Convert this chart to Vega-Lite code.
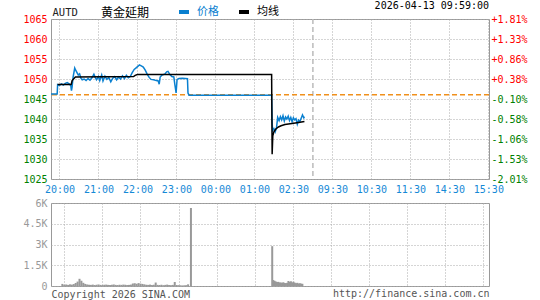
{
  "$schema": "https://vega.github.io/schema/vega-lite/v6.json",
  "padding": {"left": 22, "top": 0, "right": 5, "bottom": 0},
  "background": "white",
  "bounds": "flush",
  "spacing": 24,
  "config": {
    "view": {"stroke": "#999999", "strokeWidth": 1},
    "font": "DejaVu Sans Mono",
    "axis": {
      "labelFont": "DejaVu Sans Mono", "labelFontSize": 10,
      "titleFont": "DejaVu Sans Mono", "titleFontWeight": "normal",
      "gridColor": "#aaaaaa", "gridDash": [1, 2], "gridOpacity": 1, "gridWidth": 1,
      "domain": false, "ticks": false
    }
  },
  "datasets": {
    "px": [
      {"s":"价格","i":0,"p":1046.25},{"s":"价格","i":9.5,"p":1046.25},{"s":"价格","i":10.2,"p":1048.6},{"s":"价格","i":13,"p":1048.4},{"s":"价格","i":16,"p":1048.8},{"s":"价格","i":19,"p":1048.5},{"s":"价格","i":22,"p":1048.9},{"s":"价格","i":25,"p":1049.1},{"s":"价格","i":28,"p":1048.8},{"s":"价格","i":30.5,"p":1048.3},{"s":"价格","i":31.5,"p":1047.1},{"s":"价格","i":32.5,"p":1048.0},{"s":"价格","i":34,"p":1050.5},{"s":"价格","i":36.5,"p":1052.75},{"s":"价格","i":38,"p":1052.2},{"s":"价格","i":40,"p":1051.6},{"s":"价格","i":42,"p":1051.0},{"s":"价格","i":44,"p":1051.3},{"s":"价格","i":46,"p":1050.2},{"s":"价格","i":48,"p":1049.8},{"s":"价格","i":51,"p":1050.0},{"s":"价格","i":54,"p":1049.6},{"s":"价格","i":57,"p":1050.1},{"s":"价格","i":60,"p":1049.7},{"s":"价格","i":63,"p":1050.3},{"s":"价格","i":66,"p":1051.2},{"s":"价格","i":68,"p":1050.4},{"s":"价格","i":70,"p":1049.8},{"s":"价格","i":73,"p":1050.6},{"s":"价格","i":75,"p":1049.6},{"s":"价格","i":78,"p":1051.0},{"s":"价格","i":80,"p":1049.5},{"s":"价格","i":83,"p":1050.7},{"s":"价格","i":86,"p":1049.9},{"s":"价格","i":89,"p":1050.4},{"s":"价格","i":92,"p":1049.3},{"s":"价格","i":95,"p":1050.2},{"s":"价格","i":98,"p":1050.6},{"s":"价格","i":101,"p":1049.8},{"s":"价格","i":104,"p":1050.5},{"s":"价格","i":107,"p":1050.0},{"s":"价格","i":110,"p":1050.8},{"s":"价格","i":113,"p":1050.1},{"s":"价格","i":116,"p":1050.9},{"s":"价格","i":119,"p":1050.3},{"s":"价格","i":122,"p":1050.6},{"s":"价格","i":125,"p":1051.6},{"s":"价格","i":128,"p":1052.4},{"s":"价格","i":131,"p":1052.8},{"s":"价格","i":134,"p":1053.2},{"s":"价格","i":136,"p":1053.5},{"s":"价格","i":139,"p":1053.3},{"s":"价格","i":142,"p":1053.0},{"s":"价格","i":145,"p":1052.2},{"s":"价格","i":148,"p":1051.2},{"s":"价格","i":151,"p":1050.4},{"s":"价格","i":154,"p":1049.9},{"s":"价格","i":158,"p":1049.8},{"s":"价格","i":162,"p":1049.6},{"s":"价格","i":165,"p":1049.5},{"s":"价格","i":166.5,"p":1048.7},{"s":"价格","i":168,"p":1050.5},{"s":"价格","i":171,"p":1051.0},{"s":"价格","i":175,"p":1051.2},{"s":"价格","i":178,"p":1051.8},{"s":"价格","i":180,"p":1051.9},{"s":"价格","i":183,"p":1051.1},{"s":"价格","i":186,"p":1050.6},{"s":"价格","i":189,"p":1050.5},{"s":"价格","i":190.5,"p":1048.7},{"s":"价格","i":192.5,"p":1046.5},{"s":"价格","i":194,"p":1049.9},{"s":"价格","i":197,"p":1050.1},{"s":"价格","i":202,"p":1050.2},{"s":"价格","i":210,"p":1050.1},{"s":"价格","i":210.8,"p":1046.5},{"s":"价格","i":212.5,"p":1045.95},{"s":"价格","i":339.5,"p":1045.95},{"s":"价格","i":340.3,"p":1039.2},{"s":"价格","i":341,"p":1037.1},{"s":"价格","i":343,"p":1037.6},{"s":"价格","i":345,"p":1036.8},{"s":"价格","i":347,"p":1037.8},{"s":"价格","i":348.8,"p":1040.4},{"s":"价格","i":351,"p":1039.6},{"s":"价格","i":353,"p":1040.6},{"s":"价格","i":355,"p":1039.8},{"s":"价格","i":357,"p":1040.8},{"s":"价格","i":359,"p":1039.5},{"s":"价格","i":361,"p":1040.5},{"s":"价格","i":363,"p":1040.0},{"s":"价格","i":365,"p":1040.7},{"s":"价格","i":367,"p":1039.6},{"s":"价格","i":369,"p":1040.4},{"s":"价格","i":371,"p":1039.3},{"s":"价格","i":373,"p":1040.3},{"s":"价格","i":375,"p":1039.8},{"s":"价格","i":377,"p":1040.1},{"s":"价格","i":379,"p":1038.7},{"s":"价格","i":381,"p":1039.7},{"s":"价格","i":383,"p":1039.4},{"s":"价格","i":385,"p":1040.2},{"s":"价格","i":387,"p":1041.0},{"s":"价格","i":389,"p":1040.3},{"s":"价格","i":390,"p":1040.6},
      {"s":"均线","i":10.2,"p":1048.6},{"s":"均线","i":31,"p":1048.6},{"s":"均线","i":32.5,"p":1049.6},{"s":"均线","i":37.5,"p":1050.5},{"s":"均线","i":127,"p":1050.6},{"s":"均线","i":129.5,"p":1050.9},{"s":"均线","i":133,"p":1051.1},{"s":"均线","i":339.5,"p":1051.1},{"s":"均线","i":340.3,"p":1031.2},{"s":"均线","i":341.3,"p":1035.8},{"s":"均线","i":343,"p":1036.8},{"s":"均线","i":346,"p":1037.5},{"s":"均线","i":350,"p":1038.0},{"s":"均线","i":354,"p":1038.3},{"s":"均线","i":360,"p":1038.6},{"s":"均线","i":368,"p":1038.8},{"s":"均线","i":376,"p":1039.0},{"s":"均线","i":383,"p":1039.2},{"s":"均线","i":390,"p":1039.4}
    ],
    "ref": [{"pc": 1046.04}],
    "brk": [{"i": 403}],
    "vol": [
      {"i":10,"v":150},{"i":13,"v":90},{"i":16,"v":110},{"i":19,"v":80},{"i":22,"v":120},{"i":25,"v":100},{"i":28,"v":140},{"i":31,"v":220},{"i":34,"v":320},{"i":37,"v":520},{"i":40,"v":380},{"i":43,"v":230},{"i":46,"v":150},{"i":49,"v":110},{"i":52,"v":90},{"i":55,"v":80},{"i":58,"v":100},{"i":61,"v":70},{"i":64,"v":90},{"i":67,"v":110},{"i":70,"v":80},{"i":73,"v":70},{"i":76,"v":90},{"i":79,"v":100},{"i":82,"v":80},{"i":85,"v":70},{"i":88,"v":90},{"i":91,"v":110},{"i":94,"v":80},{"i":97,"v":70},{"i":100,"v":90},{"i":103,"v":80},{"i":106,"v":100},{"i":109,"v":90},{"i":112,"v":70},{"i":115,"v":80},{"i":118,"v":100},{"i":121,"v":180},{"i":124,"v":200},{"i":127,"v":160},{"i":130,"v":210},{"i":133,"v":170},{"i":136,"v":150},{"i":139,"v":120},{"i":142,"v":90},{"i":145,"v":80},{"i":148,"v":100},{"i":151,"v":70},{"i":154,"v":90},{"i":157,"v":250},{"i":160,"v":80},{"i":163,"v":70},{"i":166,"v":90},{"i":169,"v":60},{"i":172,"v":80},{"i":175,"v":100},{"i":178,"v":70},{"i":181,"v":60},{"i":184,"v":80},{"i":187,"v":290},{"i":190,"v":70},{"i":193,"v":60},{"i":196,"v":50},{"i":199,"v":40},{"i":202,"v":50},{"i":205,"v":60},{"i":208,"v":120},
      {"i":212.5,"v":5640},
      {"i":340.5,"v":2880},{"i":342,"v":430},{"i":344,"v":380},{"i":346,"v":330},{"i":348,"v":290},{"i":350,"v":300},{"i":352,"v":260},{"i":354,"v":250},{"i":356,"v":230},{"i":358,"v":270},{"i":360,"v":220},{"i":362,"v":210},{"i":364,"v":230},{"i":366,"v":360},{"i":368,"v":300},{"i":370,"v":340},{"i":372,"v":260},{"i":374,"v":310},{"i":376,"v":240},{"i":378,"v":200},{"i":380,"v":230},{"i":382,"v":180},{"i":384,"v":200},{"i":386,"v":170},{"i":388,"v":160}
    ]
  },
  "vconcat": [
    {
      "width": 438,
      "height": 160,
      "title": {"text": "2026-04-13 09:59:00", "anchor": "end", "frame": "group", "font": "DejaVu Sans Mono", "fontSize": 10, "fontWeight": "normal", "color": "#000000", "offset": -4},
      "layer": [
        {
          "data": {"name": "brk"},
          "mark": {"type": "rule", "color": "#bbbbbb", "strokeWidth": 1.5, "strokeDash": [5, 3]},
          "encoding": {
            "x": {"field": "i", "type": "quantitative", "scale": {"domain": [0, 674], "nice": false, "zero": false},
              "axis": {"orient": "bottom", "values": [13,73,133,193,253,313,373,433,493,553,613,673], "labelExpr": "['20:00','21:00','22:00','23:00','00:00','01:00','02:30','09:30','10:30','11:30','14:30','15:30'][round((datum.value-13)/60)]", "labelColor": "#1589d6", "labelPadding": 5, "labelFlush": false, "grid": true, "title": null}}
          }
        },
        {
          "data": {"name": "ref"},
          "mark": {"type": "rule", "color": "#f0901c", "strokeWidth": 1.5, "strokeDash": [5, 3]},
          "encoding": {
            "y": {"field": "pc", "type": "quantitative", "scale": {"domain": [1025, 1065], "nice": false, "zero": false},
              "axis": {"orient": "right", "values": [1025,1030,1035,1040,1045,1050,1055,1060,1065], "labelExpr": "(datum.value >= 1046.04 ? '+' : '-') + format(abs(datum.value/1046.04 - 1)*100, '.2f') + '%'", "labelPadding": 2, "labelColor": {"condition": {"test": "datum.value > 1046", "value": "#ff0000"}, "value": "#008000"}, "grid": false, "title": null}}
          }
        },
        {
          "data": {"name": "px"},
          "mark": {"type": "line", "strokeWidth": 1.5},
          "encoding": {
            "x": {"field": "i", "type": "quantitative", "scale": {"domain": [0, 674], "nice": false, "zero": false},
              "axis": {"orient": "bottom", "values": [13,73,133,193,253,313,373,433,493,553,613,673], "labelExpr": "['20:00','21:00','22:00','23:00','00:00','01:00','02:30','09:30','10:30','11:30','14:30','15:30'][round((datum.value-13)/60)]", "labelColor": "#1589d6", "labelPadding": 5, "labelFlush": false, "grid": true, "title": null}},
            "y": {"field": "p", "type": "quantitative", "scale": {"domain": [1025, 1065], "nice": false, "zero": false},
              "axis": {"orient": "left", "values": [1025,1030,1035,1040,1045,1050,1055,1060,1065], "format": "d", "labelPadding": 4, "labelColor": {"condition": {"test": "datum.value > 1046", "value": "#ff0000"}, "value": "#008000"}, "grid": true,
                "title": "AUTD", "titleAngle": 0, "titleX": 1, "titleY": -4, "titleAlign": "left", "titleBaseline": "alphabetic", "titleFontSize": 10.5, "titleColor": "#222222"}},
            "color": {"field": "s", "type": "nominal", "scale": {"domain": ["价格", "均线"], "range": ["#0a80d0", "#000000"]},
              "legend": {"orient": "none", "legendX": 50, "legendY": -14, "direction": "horizontal", "padding": 0,
                "title": "黄金延期", "titleOrient": "left", "titleFont": "Noto Sans CJK SC", "titleFontSize": 12, "titleFontWeight": "normal", "titleColor": "#000000", "titlePadding": 27,
                "labelFont": "Noto Sans CJK SC", "labelFontSize": 11, "labelOffset": 6, "columnPadding": 12,
                "symbolType": "stroke", "symbolStrokeWidth": 4, "symbolSize": 100,
                "encode": {"labels": {"update": {"fill": {"signal": "datum.label == '价格' ? '#0a80d0' : '#000000'"}}}}}}
          }
        }
      ],
      "resolve": {"scale": {"y": "independent"}, "axis": {"y": "independent"}}
    },
    {
      "width": 438,
      "height": 83,
      "data": {"name": "vol"},
      "mark": {"type": "bar", "width": 2, "color": "#999999"},
      "encoding": {
        "x": {"field": "i", "type": "quantitative", "scale": {"domain": [0, 674], "nice": false, "zero": false},
          "axis": {"orient": "bottom", "values": [13,73,133,193,253,313,373,433,493,553,613,673], "labels": false, "grid": true,
            "title": "http://finance.sina.com.cn", "titleAnchor": "end", "titlePadding": 2, "titleFontSize": 10, "titleColor": "#555555", "titleBaseline": "top"}},
        "y": {"field": "v", "type": "quantitative", "scale": {"domain": [0, 6000], "nice": false},
          "axis": {"values": [0, 1500, 3000, 4500, 6000], "labelExpr": "datum.value == 0 ? '0' : (datum.value/1000) + 'K'", "labelColor": "#999999", "labelPadding": 4, "grid": true,
            "title": "Copyright 2026 SINA.COM", "titleAngle": 0, "titleX": 0, "titleY": 86, "titleAlign": "left", "titleBaseline": "top", "titleFontSize": 10, "titleColor": "#555555"}}
      }
    }
  ]
}
